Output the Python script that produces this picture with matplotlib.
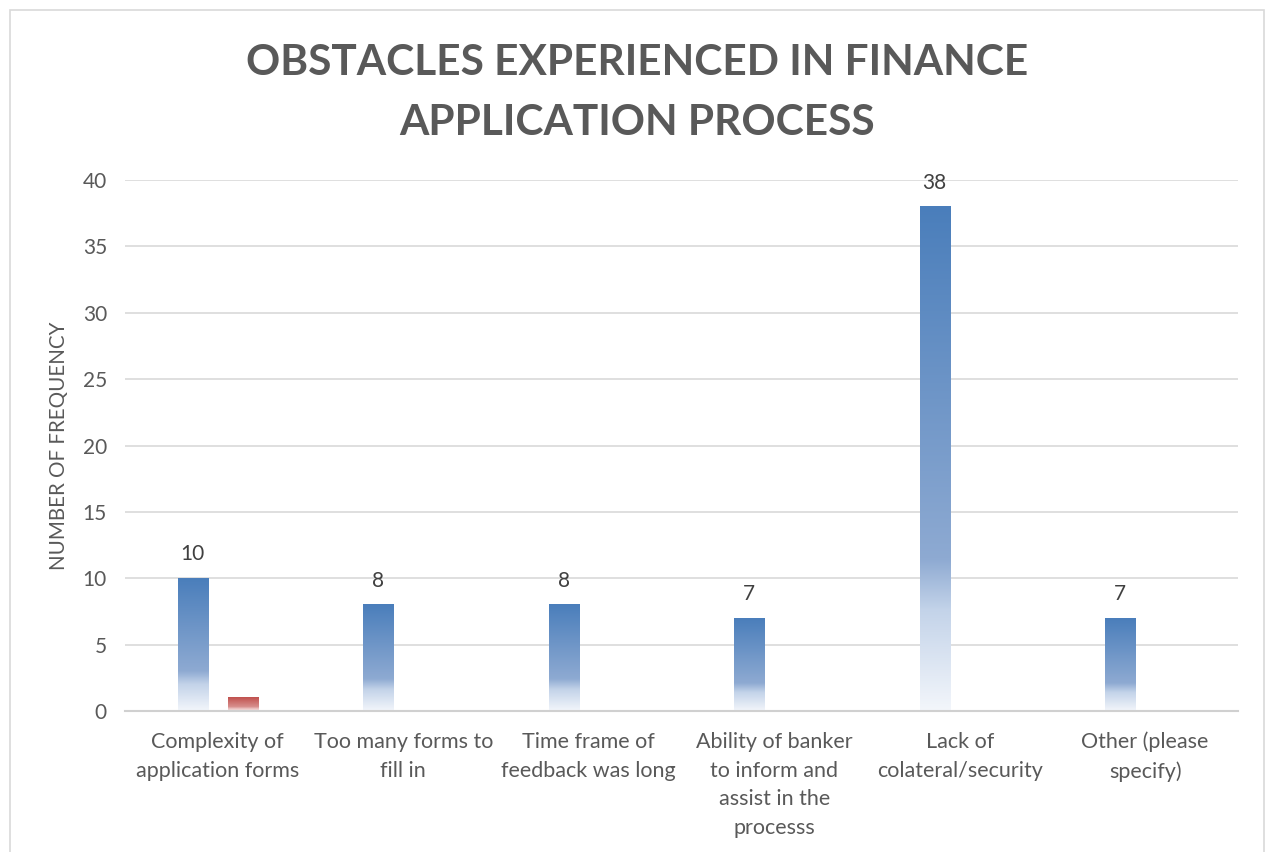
import numpy as np
import matplotlib.pyplot as plt
from matplotlib.colors import LinearSegmentedColormap
from matplotlib.patches import Rectangle

plt.rcParams['font.family'] = ['Lato', 'DejaVu Sans']

categories = ["Complexity of\napplication forms", "Too many forms to\nfill in",
              "Time frame of\nfeedback was long",
              "Ability of banker\nto inform and\nassist in the\nprocesss",
              "Lack of\ncolateral/security", "Other (please\nspecify)"]
freq = [10, 8, 8, 7, 38, 7]
extra = [1, 0, 0, 0, 0, 0]   # second (red) series

grey = '#595959'

fig = plt.figure(figsize=(12.69, 8.52), dpi=100)
ax = fig.add_axes([0.0985, 0.1655, 0.877, 0.6232])

x = np.arange(len(categories))
w = 0.162
off = 0.135
b1 = ax.bar(x - off, freq, w, color='none')
b2 = ax.bar(x + off, extra, w, color='none')

# excel style gradient fill, dark at the top, fading out at the base
blue = LinearSegmentedColormap.from_list('b', [(0, '#4a7ebb'), (0.70, '#8eaad2'),
                                               (0.80, '#c3d3e9'), (1, '#f3f6fb')])
red = LinearSegmentedColormap.from_list('r', [(0, '#c0504d'), (0.70, '#d88f8d'),
                                              (0.80, '#e8b9b8'), (1, '#f8e6e6')])
grad = np.linspace(0, 1, 256).reshape(-1, 1)
for bars, cm in ((b1, blue), (b2, red)):
    for p in bars:
        h = p.get_height()
        if h <= 0:
            continue
        ax.imshow(grad, cmap=cm, aspect='auto', interpolation='bilinear',
                  extent=(p.get_x(), p.get_x() + p.get_width(), 0, h),
                  origin='upper', zorder=2)

ax.bar_label(b1, labels=[str(v) for v in freq], padding=10, fontsize=15, color='#404040')

ax.set_xlim(-0.5, len(categories) - 0.5)
ax.set_ylim(0, 40)
ax.set_yticks(range(0, 41, 5))
ax.set_xticks(x)
ax.set_xticklabels(categories, fontsize=15.5, color=grey, linespacing=1.55, va='top')
ax.tick_params(axis='y', labelsize=15, labelcolor=grey, length=0, pad=13)
ax.tick_params(axis='x', length=0, pad=15)
ax.grid(axis='y', color='#d9d9d9', linewidth=1.2, zorder=0)
ax.set_axisbelow(True)
for s in ('top', 'right', 'left'):
    ax.spines[s].set_visible(False)
ax.spines['bottom'].set_color('#d0d0d0')
ax.spines['bottom'].set_linewidth(1.5)

ax.set_ylabel('NUMBER OF FREQUENCY', fontsize=14.8, color=grey, labelpad=10)

fig.text(0.502, 0.891, 'OBSTACLES EXPERIENCED IN FINANCE\nAPPLICATION PROCESS',
         ha='center', va='center', fontsize=30.5, fontweight='bold', color=grey,
         linespacing=1.7)

# chart area border
fig.patches.append(Rectangle((10 / 1269, -0.05), 1254 / 1269, 1 - 10 / 852 + 0.05,
                             transform=fig.transFigure, fill=False,
                             edgecolor='#d9d9d9', linewidth=1.2))

fig.savefig('out.png', dpi=100)
